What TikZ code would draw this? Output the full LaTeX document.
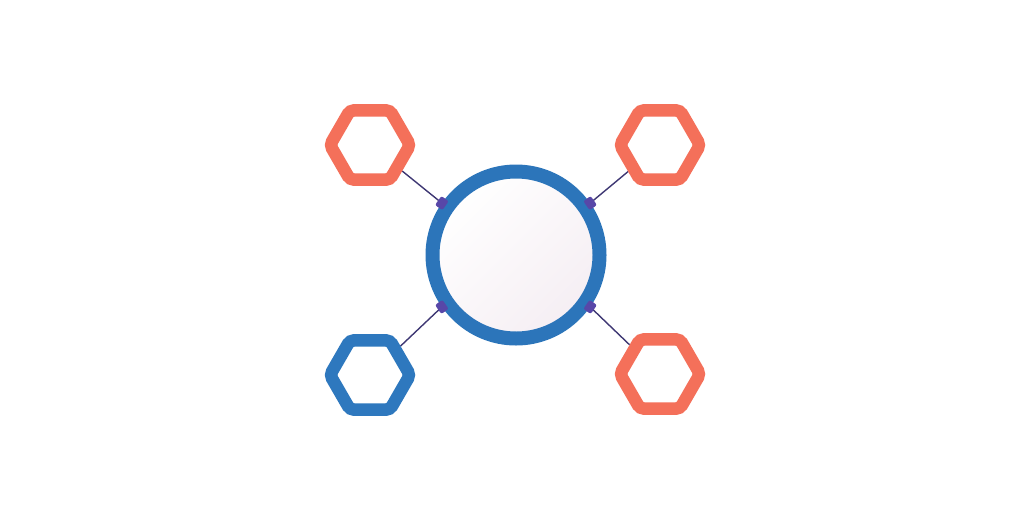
\documentclass[tikz,border=0pt]{standalone}
\usetikzlibrary{shapes.geometric,backgrounds}
\definecolor{hexorange}{HTML}{F4705A}
\definecolor{hexblue}{HTML}{2E78BE}
\definecolor{ringblue}{HTML}{2C75BA}
\definecolor{linkpurple}{HTML}{3E3773}
\definecolor{tabpurple}{HTML}{5847A8}
\definecolor{innerpink}{HTML}{F5EEF3}
\begin{document}
\begin{tikzpicture}[x=1pt,y=-1pt,
  hexnode/.style={regular polygon, regular polygon sides=6, minimum size=80pt,
    inner sep=0pt, line width=12.5pt, rounded corners=4pt, draw=#1, fill=white},
  tabnode/.style={rectangle, fill=tabpurple, minimum width=9pt, minimum height=11pt,
    inner sep=0pt, rounded corners=2pt},
  link/.style={draw=linkpurple, line width=1.4pt}]
\useasboundingbox (0,0) rectangle (1024,512);

\node[circle, minimum size=167pt, inner sep=0pt, line width=14pt, draw=ringblue,
  shading=axis, top color=white, bottom color=innerpink, shading angle=45] (ring) at (516,255) {};

\node[hexnode=hexorange] (hTL) at (370,145) {};
\node[hexnode=hexorange] (hTR) at (660,145) {};
\node[hexnode=hexblue]   (hBL) at (370,375) {};
\node[hexnode=hexorange] (hBR) at (660,374) {};

\node[tabnode, rotate=145] (tTL) at (ring.145) {};
\node[tabnode, rotate=35]  (tTR) at (ring.35) {};
\node[tabnode, rotate=215] (tBL) at (ring.215) {};
\node[tabnode, rotate=325] (tBR) at (ring.325) {};

\begin{pgfonlayer}{background}
\draw[link] (tTL.center) -- (hTL);
\draw[link] (tTR.center) -- (hTR);
\draw[link] (tBL.center) -- (hBL);
\draw[link] (tBR.center) -- (hBR);
\end{pgfonlayer}
\end{tikzpicture}
\end{document}
